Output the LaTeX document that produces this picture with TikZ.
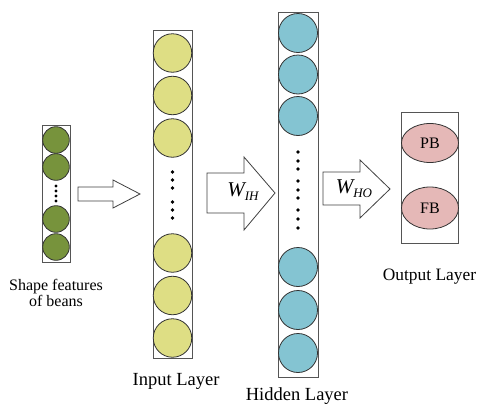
\documentclass[tikz,border=0pt]{standalone}
\usepackage{fontspec}
\setmainfont{Liberation Serif}
\definecolor{beangreen}{HTML}{77933C}
\definecolor{inyellow}{HTML}{DEDE84}
\definecolor{hidblue}{HTML}{84C4D2}
\definecolor{outpink}{HTML}{E5B8B7}
\definecolor{boxgray}{HTML}{555555}
\tikzset{
  colbox/.style={draw=boxgray, line width=0.9pt},
  neuron/.style={circle, draw=black!80, line width=0.8pt, inner sep=0pt},
  greenn/.style={neuron, fill=beangreen, minimum size=26.6pt},
  yellown/.style={neuron, fill=inyellow, minimum size=38.5pt},
  bluen/.style={neuron, fill=hidblue, minimum size=39pt},
  outn/.style={ellipse, draw=black!80, line width=0.8pt, fill=outpink, inner sep=0pt},
  dotn/.style={circle, fill=black, inner sep=0pt, minimum size=3.6pt},
  blockarrow/.style={draw=black!75, line width=0.8pt, fill=white, line join=miter},
  lbl/.style={inner sep=0pt, align=center},
}
\usetikzlibrary{shapes.geometric}
\newcommand{\wlabel}[2]{\fontsize{21}{21}\selectfont\itshape #1\raisebox{-4pt}{\fontsize{13}{13}\selectfont\itshape #2}}
\begin{document}
\begin{tikzpicture}[x=1pt,y=-1pt]
\useasboundingbox (0,0) rectangle (485,407);

% ---------- feature column ----------
\draw[colbox] (42,125) rectangle (70,262);
\node[greenn] (f1) at (56,140) {};
\node[greenn] (f2) at (56,167) {};
\node[greenn] (f3) at (56,219) {};
\node[greenn] (f4) at (56,247) {};
\foreach \y [count=\i] in {186,191,196,201} \node[dotn,minimum size=3.2pt] (fd\i) at (56,\y) {};
\node[lbl, font=\fontsize{16}{16}\selectfont] (flab) at (56,293) {Shape features\\of beans};

% ---------- arrow 1 ----------
\draw[blockarrow] (78,187) -- (113,187) -- (113,180) -- (140,194) -- (113,208) -- (113,201) -- (78,201) -- cycle;

% ---------- input column ----------
\draw[colbox] (153,30) rectangle (192,358);
\foreach \y [count=\i] in {53,95.5,138,253,295.5,338} \node[yellown] (in\i) at (172.5,\y) {};
\foreach \y [count=\i] in {172,180,188,202,210,218} \node[dotn] (ind\i) at (172.5,\y) {};
\node[lbl, font=\fontsize{18.5}{18.5}\selectfont] (inlab) at (176,381) {Input Layer};

% ---------- arrow W_IH ----------
\draw[blockarrow] (207,173) -- (244,173) -- (244,157) -- (275,193) -- (244,230) -- (244,213) -- (207,213) -- cycle;
\node[lbl] (wih) at (243,192) {\wlabel{W}{IH}};

% ---------- hidden column ----------
\draw[colbox] (278,12) rectangle (318,377);
\foreach \y [count=\i] in {33,74.5,116,267,310,353} \node[bluen] (h\i) at (298,\y) {};
\foreach \y [count=\i] in {152,161,169,181,190,198,210,219,228} \node[dotn] (hd\i) at (298,\y) {};
\node[lbl, font=\fontsize{18.5}{18.5}\selectfont] (hidlab) at (297,396) {Hidden Layer};

% ---------- arrow W_HO ----------
\draw[blockarrow] (323,172) -- (360,172) -- (360,160) -- (390,189) -- (360,218) -- (360,205) -- (323,205) -- cycle;
\node[lbl] (who) at (354,189) {\wlabel{W}{HO}};

% ---------- output column ----------
\draw[colbox] (401,112) rectangle (458,243);
\node[outn, minimum width=57pt, minimum height=39pt, font=\fontsize{16}{16}\selectfont] (pb) at (430,143) {PB};
\node[outn, minimum width=57pt, minimum height=42pt, font=\fontsize{16}{16}\selectfont] (fb) at (430,208) {FB};
\node[lbl, font=\fontsize{17.4}{17.4}\selectfont] (outlab) at (429.5,277) {Output Layer};
\end{tikzpicture}
\end{document}
